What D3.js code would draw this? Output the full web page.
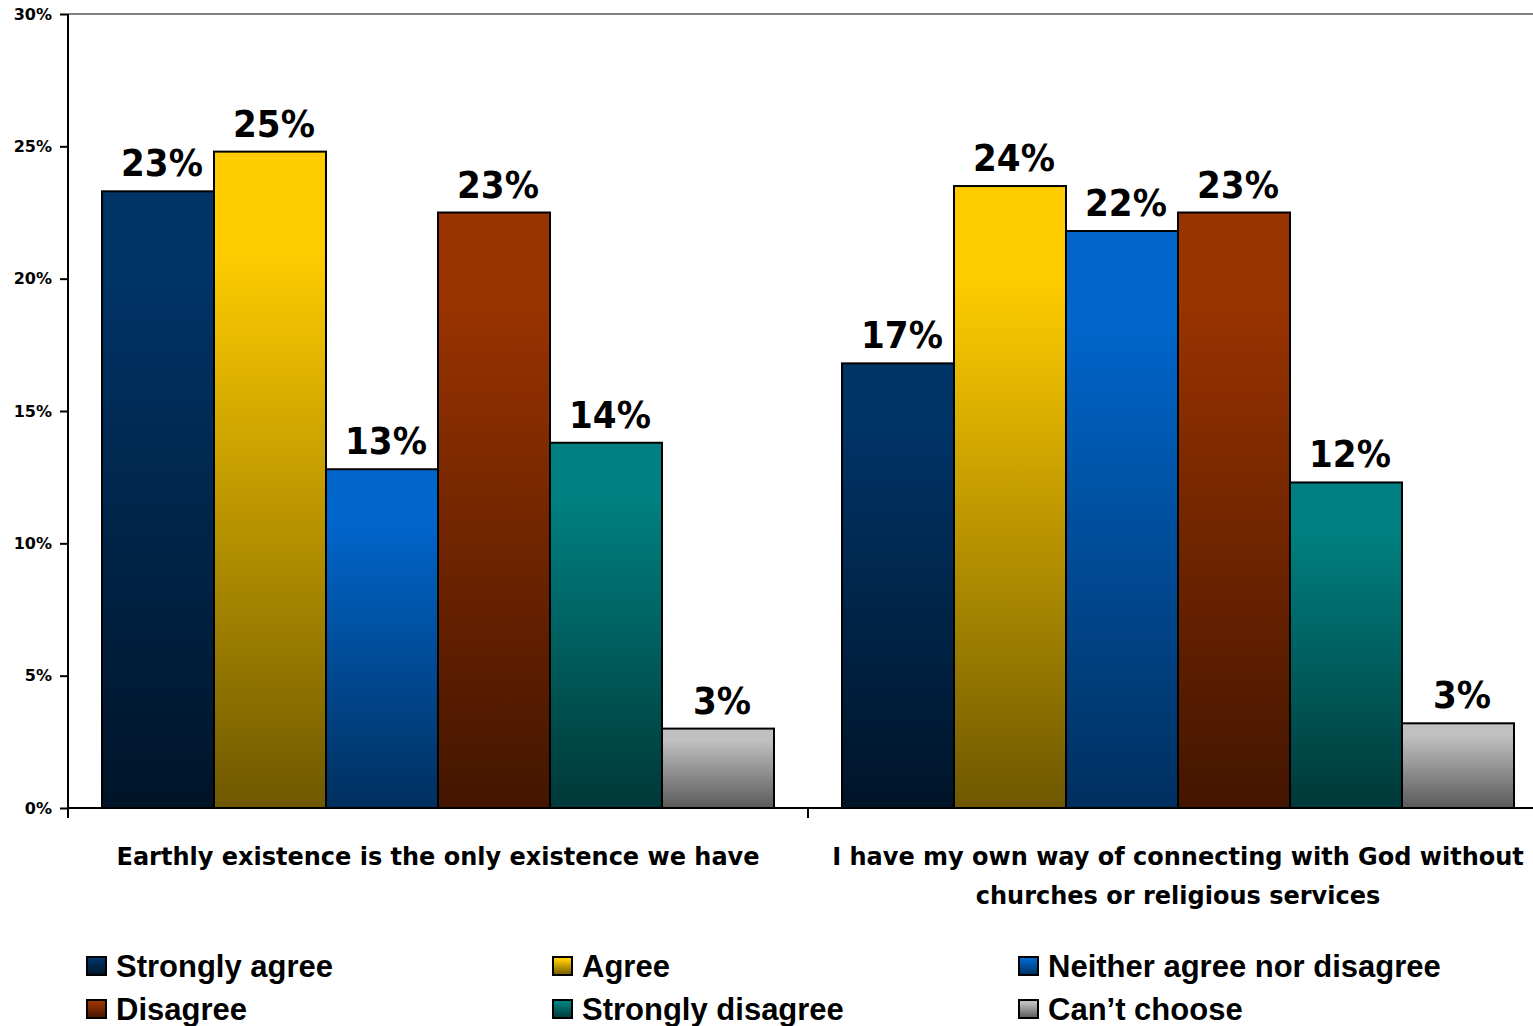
<!DOCTYPE html>
<html>
<head>
<meta charset="utf-8">
<script src="https://cdn.jsdelivr.net/npm/d3@7"></script>
<style>
  html, body { margin: 0; padding: 0; background: #fff; }
  svg { display: block; }
</style>
</head>
<body>
<svg id="chart" width="1533" height="1026"></svg>
<script>
// Survey statements (one group of bars each)
const statements = [
  ["Earthly existence is the only existence we have"],
  ["I have my own way of connecting with God without", "churches or religious services"]
];
// Answer categories (one bar per category in each group)
const answers = ["Strongly agree", "Agree", "Neither agree nor disagree", "Disagree", "Strongly disagree", "Can\u2019t choose"];
// Share of respondents per answer, in percent
const earthlyValues = [23.3, 24.8, 12.8, 22.5, 13.8, 3.0];
const godValues = [16.8, 23.5, 21.8, 22.5, 12.3, 3.2];
// Y axis ticks, in percent
const yTicks = [0, 5, 10, 15, 20, 25, 30];

// Gradient colours per answer: light top, dark bottom
const topColors = ["#003366", "#FFCC00", "#0066CC", "#993300", "#008080", "#C0C0C0"];
const bottomColors = ["#001428", "#6E5800", "#002F5E", "#431500", "#003838", "#5A5A5A"];

const seriesValues = [earthlyValues, godValues];
const rows = [];
statements.forEach((s, gi) => {
  answers.forEach((a, ai) => rows.push({ group: gi, answer: a, ai, value: seriesValues[gi][ai] }));
});

const svg = d3.select("#chart");
const plot = { left: 68, right: 1548, top: 14, bottom: 808 };

const x0 = d3.scaleBand().domain(d3.range(statements.length)).range([plot.left, plot.right]).padding(0);
const x1 = d3.scaleBand().domain(answers).range([0, x0.bandwidth()]).paddingInner(0).paddingOuter(0.3036);
const y = d3.scaleLinear().domain([0, 30]).range([plot.bottom, plot.top]);

// gradients
const defs = svg.append("defs");
answers.forEach((a, i) => {
  const g = defs.append("linearGradient").attr("id", "grad" + i)
    .attr("x1", 0).attr("y1", 0).attr("x2", 0).attr("y2", 1);
  g.append("stop").attr("offset", "0%").attr("stop-color", topColors[i]);
  g.append("stop").attr("offset", "15%").attr("stop-color", topColors[i]);
  g.append("stop").attr("offset", "100%").attr("stop-color", bottomColors[i]);
});

// top border of plot area
svg.append("line")
  .attr("x1", plot.left).attr("x2", plot.right)
  .attr("y1", plot.top).attr("y2", plot.top)
  .attr("stroke", "#808080").attr("stroke-width", 2);

// bars
svg.append("g").selectAll("rect").data(rows).join("rect")
  .attr("x", d => x0(d.group) + x1(d.answer))
  .attr("y", d => y(d.value))
  .attr("width", x1.bandwidth())
  .attr("height", d => y(0) - y(d.value))
  .attr("fill", d => `url(#grad${d.ai})`)
  .attr("stroke", "#000").attr("stroke-width", 2);

// value labels
svg.append("g").selectAll("text").data(rows).join("text")
  .attr("x", d => x0(d.group) + x1(d.answer) + x1.bandwidth() / 2 + 4)
  .attr("y", d => y(d.value) - 15)
  .attr("text-anchor", "middle")
  .attr("font-family", "'DejaVu Sans Condensed', 'DejaVu Sans', sans-serif")
  .attr("font-weight", "bold")
  .attr("font-size", 38)
  .attr("fill", "#000")
  .text(d => Math.round(d.value) + "%");

// y axis
const yAxis = d3.axisLeft(y).tickValues(yTicks).tickSize(8).tickPadding(8).tickFormat(d => d + "%");
const yg = svg.append("g").attr("transform", `translate(${plot.left},0)`).call(yAxis);
yg.select(".domain").remove();
yg.selectAll(".tick line").attr("stroke", "#000").attr("stroke-width", 2);
yg.selectAll(".tick text")
  .attr("font-family", "'DejaVu Sans', sans-serif")
  .attr("font-weight", "bold").attr("font-size", 16).attr("fill", "#000");
svg.append("line")
  .attr("x1", plot.left).attr("x2", plot.left)
  .attr("y1", plot.top).attr("y2", plot.bottom + 10)
  .attr("stroke", "#000").attr("stroke-width", 2);

// x axis
svg.append("line")
  .attr("x1", plot.left).attr("x2", plot.right)
  .attr("y1", plot.bottom).attr("y2", plot.bottom)
  .attr("stroke", "#000").attr("stroke-width", 2);
svg.append("g").selectAll("line").data(d3.range(statements.length + 1)).join("line")
  .attr("x1", i => plot.left + i * x0.step()).attr("x2", i => plot.left + i * x0.step())
  .attr("y1", plot.bottom).attr("y2", plot.bottom + 10)
  .attr("stroke", "#000").attr("stroke-width", 2);

// category labels
const catG = svg.append("g");
statements.forEach((lines, gi) => {
  const t = catG.append("text")
    .attr("x", x0(gi) + x0.bandwidth() / 2)
    .attr("y", 865)
    .attr("text-anchor", "middle")
    .attr("font-family", "'DejaVu Sans', sans-serif")
    .attr("font-weight", "bold").attr("font-size", 24).attr("fill", "#000");
  lines.forEach((ln, li) => {
    t.append("tspan").attr("x", x0(gi) + x0.bandwidth() / 2).attr("dy", li === 0 ? 0 : 39).text(ln);
  });
});

// legend
const legendCols = 3, colStep = 466, rowStep = 43;
const lg = svg.append("g").attr("transform", "translate(87,957)");
const item = lg.selectAll("g").data(answers).join("g")
  .attr("transform", (d, i) => `translate(${(i % legendCols) * colStep},${Math.floor(i / legendCols) * rowStep})`);
item.append("rect")
  .attr("width", 19).attr("height", 18)
  .attr("fill", (d, i) => `url(#grad${i})`)
  .attr("stroke", "#000").attr("stroke-width", 2);
item.append("text")
  .attr("x", 29).attr("y", 20)
  .attr("font-family", "'Liberation Sans', Arial, sans-serif")
  .attr("font-weight", "bold").attr("font-size", 31).attr("fill", "#000")
  .text(d => d);
</script>
</body>
</html>
